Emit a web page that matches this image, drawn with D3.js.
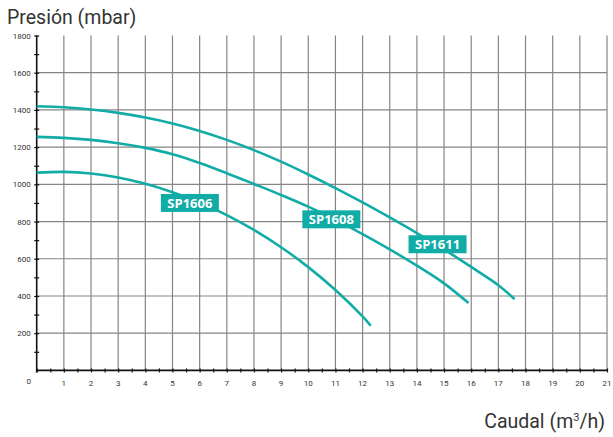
<!doctype html>
<html>
<head>
  <meta charset="utf-8">
  <title>Curvas SP16</title>
  <style>
  body{ margin:0; background:#fff; font-family: Roboto, sans-serif; }
  .tick-label{ font-size: 8px; fill:#333; }
  .title{ font-size: 19.5px; fill:#333; }
  .tag{ font-family: "Open Sans", sans-serif; font-weight: bold; font-size: 13px; fill:#fff; }
  </style>
</head>
<body>
  <svg></svg>
  <script src="https://d3js.org/d3.v7.min.js"></script>
  <script>
  var width = 613;
  var height = 437;

  // curve data: caudal (m3/h) vs presión (mbar)
  var flow1606 = [0, 1, 2, 3, 4, 5, 6, 7, 8, 9, 10, 11, 12, 12.3];
  var pres1606 = [1063, 1067, 1058, 1037, 1003, 958, 903, 835, 755, 662, 555, 432, 290, 240];

  var flow1608 = [0, 1, 2, 3, 4, 5, 6, 7, 8, 9, 10, 11, 12, 13, 14, 15, 15.9];
  var pres1608 = [1255, 1250, 1239, 1221, 1196, 1162, 1115, 1060, 1002, 943, 880, 810, 732, 650, 563, 468, 362];

  var flow1611 = [0, 1, 2, 3, 4, 5, 6, 7, 8, 9, 10, 11, 12, 13, 14, 15, 16, 17, 17.6];
  var pres1611 = [1420, 1414, 1402, 1384, 1359, 1327, 1287, 1239, 1184, 1122, 1053, 980, 903, 822, 738, 650, 556, 458, 383];

  var labelNames = ['SP1606', 'SP1608', 'SP1611'];
  var labelFlow = [5.64, 10.85, 14.76];
  var labelPres = [900, 812, 678];

  var xTicks = d3.range(0, 22);
  var yTicks = [200, 400, 600, 800, 1000, 1200, 1400, 1600, 1800];

  var teal = '#12aca7';

  var svg = d3.select('svg')
    .attr('width', width)
    .attr('height', height);

  var x = d3.scaleLinear().domain([0, 21]).range([36.7, 607]);
  var y = d3.scaleLinear().domain([0, 1800]).range([370.4, 35.5]);

  // grid
  svg.append('g').selectAll('line').data(xTicks.slice(1)).enter().append('line')
    .attr('x1', function(d){ return x(d) }).attr('x2', function(d){ return x(d) })
    .attr('y1', y(0)).attr('y2', y(1800))
    .attr('stroke', '#858585').attr('stroke-width', 1.2);
  svg.append('g').selectAll('line').data(yTicks.slice(0, -1)).enter().append('line')
    .attr('x1', x(0)).attr('x2', x(21))
    .attr('y1', function(d){ return y(d) }).attr('y2', function(d){ return y(d) })
    .attr('stroke', '#858585').attr('stroke-width', 1.2);

  // axes
  var xAxis = d3.axisBottom(x).tickValues(d3.range(0, 21.5, 0.5)).tickSize(4).tickFormat('');
  var gx = svg.append('g').attr('transform', 'translate(0,' + (y(0) - 2) + ')').call(xAxis);
  gx.select('.domain').remove();
  gx.selectAll('line').attr('stroke', '#111').attr('stroke-width', 1.2);
  svg.append('line').attr('x1', x(0)).attr('x2', x(21)).attr('y1', y(0)).attr('y2', y(0))
    .attr('stroke', '#111').attr('stroke-width', 1.6);

  var yAxis = d3.axisLeft(y).tickValues(d3.range(100, 1801, 100)).tickSize(5).tickFormat('');
  var gy = svg.append('g').attr('transform', 'translate(' + (x(0) + 2.5) + ',0)').call(yAxis);
  gy.select('.domain').remove();
  gy.selectAll('line').attr('stroke', '#111').attr('stroke-width', 1.2);
  svg.append('line').attr('x1', x(0)).attr('x2', x(0)).attr('y1', y(0) + 2).attr('y2', y(1800))
    .attr('stroke', '#111').attr('stroke-width', 1.6);

  // tick labels
  svg.append('g').selectAll('text').data(xTicks.slice(1)).enter().append('text')
    .attr('class', 'tick-label')
    .attr('x', function(d){ return x(d) })
    .attr('y', y(0) + 16)
    .attr('text-anchor', 'middle')
    .text(function(d){ return d });
  svg.append('text').attr('class', 'tick-label')
    .attr('x', x(0) - 8).attr('y', y(0) + 14)
    .attr('text-anchor', 'middle').text('0');
  svg.append('g').selectAll('text').data(yTicks).enter().append('text')
    .attr('class', 'tick-label')
    .attr('x', x(0) - 6)
    .attr('y', function(d){ return y(d) + 3 })
    .attr('text-anchor', 'end')
    .text(function(d){ return d });

  // titles
  svg.append('text').attr('class', 'title').attr('x', 7).attr('y', 24).text('Presión (mbar)');
  var cap = svg.append('text').attr('class', 'title').attr('x', 605).attr('y', 428).attr('text-anchor', 'end');
  cap.append('tspan').text('Caudal (m');
  cap.append('tspan').attr('font-size', '11px').attr('dy', -7).text('3');
  cap.append('tspan').attr('dy', 7).text('/h)');

  // curves
  var line = d3.line()
    .x(function(d){ return x(d[0]) })
    .y(function(d){ return y(d[1]) })
    .curve(d3.curveCatmullRom.alpha(0.5));

  var series = [
    d3.zip(flow1606, pres1606),
    d3.zip(flow1608, pres1608),
    d3.zip(flow1611, pres1611)
  ];
  svg.append('g').selectAll('path').data(series).enter().append('path')
    .attr('d', line)
    .attr('fill', 'none')
    .attr('stroke', teal)
    .attr('stroke-width', 2.6);

  // curve labels
  var tags = svg.append('g').selectAll('g').data(labelNames).enter().append('g')
    .attr('transform', function(d, i){ return 'translate(' + x(labelFlow[i]) + ',' + y(labelPres[i]) + ')' });
  tags.append('rect')
    .attr('x', -29).attr('y', -9).attr('width', 58).attr('height', 18)
    .attr('fill', teal);
  tags.append('text')
    .attr('class', 'tag')
    .attr('text-anchor', 'middle')
    .attr('y', 4.8)
    .text(function(d){ return d });
  </script>
</body>
</html>
